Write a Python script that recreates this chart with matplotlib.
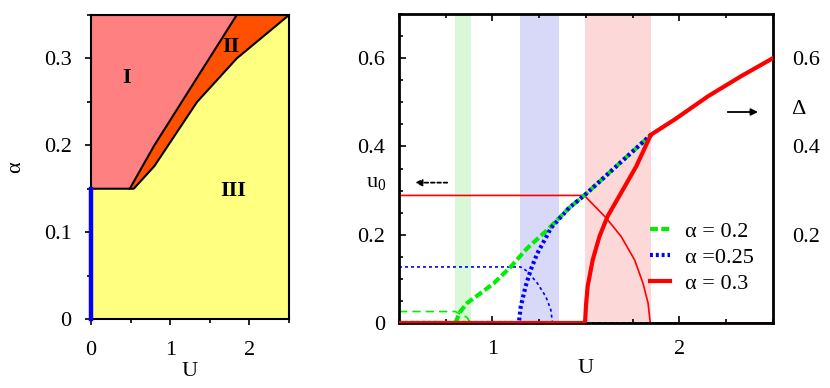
import matplotlib
matplotlib.use('Agg')
from matplotlib import pyplot as plt
from matplotlib.ticker import MultipleLocator

plt.rcParams['font.family'] = ['Liberation Serif', 'DejaVu Serif']
plt.rcParams['mathtext.fontset'] = 'custom'
plt.rcParams['mathtext.rm'] = 'Liberation Serif'
plt.rcParams['mathtext.it'] = 'Liberation Serif'

# ---- left panel: phase diagram (U, alpha) ----
b12_U = [0.0, 0.49, 0.8, 1.84]                # boundary I / II
b12_a = [0.15, 0.15, 0.20, 0.35]
b23_U = [0.54, 0.8, 1.34, 1.84, 2.5]          # boundary II / III
b23_a = [0.15, 0.176, 0.25, 0.30, 0.35]
blue_a = [0.0, 0.15]                           # line at U = 0

# ---- right panel: Delta (thick) and u0 (thin) vs U ----
bands = {'g': (0.80, 0.885), 'b': (1.145, 1.355), 'r': (1.495, 1.847)}

U_D02 = [0.5, 0.801, 0.828, 0.864, 0.935, 1.007, 1.097, 1.187, 1.294, 1.41, 1.491, 1.849]
D02 = [0.0, 0.0, 0.026, 0.045, 0.067, 0.090, 0.127, 0.170, 0.211, 0.261, 0.289, 0.427]
U_D025 = [0.5, 1.141, 1.151, 1.177, 1.204, 1.24, 1.294, 1.312, 1.41, 1.491, 1.849]
D025 = [0.0, 0.0, 0.037, 0.083, 0.12, 0.158, 0.2, 0.215, 0.261, 0.289, 0.427]
U_D03 = [0.5, 1.495, 1.5, 1.509, 1.536, 1.572, 1.616, 1.688, 1.769, 1.84, 1.849,
         1.974, 2.154, 2.333, 2.5]
D03 = [0.0, 0.0, 0.04, 0.083, 0.143, 0.196, 0.242, 0.295, 0.355, 0.42, 0.427,
       0.461, 0.514, 0.56, 0.60]

U_u02 = [0.5, 0.801, 0.837, 0.864, 0.882, 2.5]
u02 = [0.026, 0.026, 0.018, 0.013, 0.0, 0.0]
U_u025 = [0.5, 1.15, 1.187, 1.24, 1.285, 1.312, 1.321, 2.5]
u025 = [0.127, 0.127, 0.117, 0.09, 0.06, 0.03, 0.0, 0.0]
U_u03 = [0.5, 1.491, 1.608, 1.688, 1.76, 1.805, 1.832, 1.844, 2.5]
u03 = [0.289, 0.289, 0.238, 0.196, 0.143, 0.09, 0.045, 0.0, 0.0]

fig = plt.figure(figsize=(8.3, 3.88), dpi=100)
FS = 16

# left panel
ax1 = fig.add_axes([0.1096, 0.1778, 0.2386, 0.7835])
amax = 0.35
ax1.fill(b12_U + [2.5, 2.5] + b23_U[::-1] + [0.0],
         b12_a + [amax, amax] + b23_a[::-1] + [0.15], color='#ff5000', lw=0, zorder=1)
ax1.fill(b12_U + [0.0], b12_a + [amax], color='#ff8080', lw=0, zorder=2)
ax1.fill([0.0, 0.54] + b23_U[1:] + [2.5, 0.0], [0.15, 0.15] + b23_a[1:] + [0, 0],
         color='#ffff80', lw=0, zorder=2)
ax1.plot(b12_U, b12_a, color='k', lw=1.5, zorder=3)
ax1.plot([0.49] + b23_U, [0.15] + b23_a, color='k', lw=1.5, zorder=3)
ax1.plot([0, 0], blue_a, color='#0000ff', lw=3.2, zorder=4, clip_on=False)
ax1.text(0.45, 0.278, 'I', fontsize=FS, fontweight='bold', ha='center', va='center')
ax1.text(1.76, 0.313, 'II', fontsize=FS, fontweight='bold', ha='center', va='center')
ax1.text(1.8, 0.147, 'III', fontsize=FS, fontweight='bold', ha='center', va='center')
ax1.set_xlim(0, 2.5)
ax1.set_ylim(0, amax)
ax1.set_xticks([0, 1, 2])
ax1.set_xticklabels(['0', '1', '2'])
ax1.set_yticks([0, 0.1, 0.2, 0.3])
ax1.set_yticklabels(['0', '0.1', '0.2', '0.3'])
ax1.xaxis.set_minor_locator(MultipleLocator(0.5))
ax1.yaxis.set_minor_locator(MultipleLocator(0.05))
ax1.tick_params(which='both', direction='out', labelsize=FS, width=1.2)
ax1.tick_params(which='major', length=4)
ax1.tick_params(which='minor', length=3)
ax1.tick_params(axis='x', pad=12)
ax1.tick_params(axis='y', pad=10)
for s in ax1.spines.values():
    s.set_linewidth(1.5)
ax1.set_xlabel('U', fontsize=FS, labelpad=1)
ax1.set_ylabel('α', fontsize=FS, labelpad=13)

# right panel
ax2 = fig.add_axes([0.4807, 0.1675, 0.4506, 0.7964])
ax2.axvspan(*bands['g'], color='#d8f8d8', lw=0, zorder=0)
ax2.axvspan(*bands['b'], color='#d8d8f8', lw=0, zorder=0)
ax2.axvspan(*bands['r'], color='#fdd8d8', lw=0, zorder=0)

ax2.plot(U_u02, u02, color='#00ee00', lw=1.2, ls=(0, (5, 3)), zorder=2)
ax2.plot(U_u025, u025, color='#0000ff', lw=1.2, ls=(0, (1.8, 1.8)), zorder=2)
ax2.plot(U_u03, u03, color='#ff0000', lw=1.2, zorder=2)

ax2.plot(U_D02, D02, color='#00ee00', lw=3, ls=(0, (1.9, 0.8)), zorder=3,
         label='α = 0.2')
ax2.plot(U_D025, D025, color='#0000ff', lw=3, ls=(0, (0.7, 0.7)), zorder=4,
         label='α =0.25')
ax2.plot(U_D03, D03, color='#ff0000', lw=3, zorder=5, label='α = 0.3')

ax2.set_xlim(0.5, 2.5)
ax2.set_ylim(0, 0.7)
ax2.set_xticks([1, 2])
ax2.set_xticklabels(['1', '2'])
ax2.xaxis.set_minor_locator(MultipleLocator(0.25))
ax2.set_yticks([0, 0.2, 0.4, 0.6])
ax2.set_yticklabels(['0', '0.2', '0.4', '0.6'])
ax2.yaxis.set_minor_locator(MultipleLocator(0.05))
ax2.tick_params(which='both', direction='in', top=True, right=True,
                labelsize=FS, width=1.2)
ax2.tick_params(which='major', length=5)
ax2.tick_params(which='minor', length=3)
ax2.tick_params(axis='y', pad=10)
ax2.tick_params(axis='x', pad=12)
for s in ax2.spines.values():
    s.set_linewidth(2)
ax2.set_xlabel('U', fontsize=FS, labelpad=0)

ax3 = ax2.twinx()
ax3.set_ylim(0, 0.7)
ax3.set_yticks([0.2, 0.4, 0.6])
ax3.set_yticklabels(['0.2', '0.4', '0.6'])
ax3.tick_params(which='both', labelsize=FS, length=0, pad=14)
for s in ax3.spines.values():
    s.set_visible(False)

ax2.legend(loc='upper left', bbox_to_anchor=(0.672, 0.33), frameon=False,
           fontsize=16, handlelength=0.9, handletextpad=0.65, labelspacing=0.25,
           borderpad=0, borderaxespad=0)

# axis labels u0 and Delta with arrows
ax2.text(-0.061, 0.455, r'u$_0$', transform=ax2.transAxes, fontsize=FS,
         ha='center', va='center')
ax2.annotate('', xy=(0.586, 0.318), xytext=(0.758, 0.318),
             arrowprops=dict(arrowstyle='-|>', color='k', lw=1.3, ls=(0, (2, 1.5)),
                             mutation_scale=10, shrinkA=0, shrinkB=0))
ax2.annotate('', xy=(2.42, 0.478), xytext=(2.258, 0.478),
             arrowprops=dict(arrowstyle='-|>', color='k', lw=1.3,
                             mutation_scale=10, shrinkA=0, shrinkB=0))
ax2.text(1.067, 0.69, 'Δ', transform=ax2.transAxes, fontsize=FS,
         ha='center', va='center')

fig.savefig('out.png', dpi=100)
